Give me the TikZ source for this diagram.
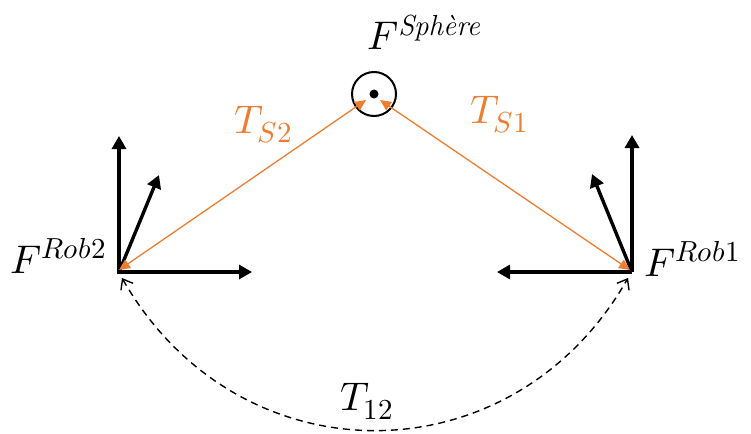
\documentclass[tikz,border=0pt]{standalone}
\usepackage{fontspec}
\usepackage{unicode-math}
\setmathfont{Latin Modern Math}
\DeclareMathSizes{40}{40}{29}{22}
\usetikzlibrary{arrows.meta}
\definecolor{orng}{RGB}{237,125,49}
\begin{document}
\begin{tikzpicture}[x=1pt,y=-1pt,
  axis/.style={line width=3.4pt,-{Triangle[length=13pt,width=14pt]}},
  link/.style={orng,line width=1.3pt,{Triangle[length=11pt,width=10pt]}-{Triangle[length=11pt,width=10pt]}},
  lbl/.style={font=\fontsize{40}{46}\selectfont,inner sep=0pt,anchor=base west},
  olbl/.style={lbl,text=orng}]
\useasboundingbox (0,0) rectangle (751,433);
% frames
\coordinate (r2) at (119,272);
\coordinate (r1) at (632,272);
\coordinate (r2up) at (119,136);
\coordinate (r2tilt) at (159,175);
\coordinate (r2right) at (252,272);
\coordinate (r1up) at (632,135);
\coordinate (r1tilt) at (592,174);
\coordinate (r1left) at (497,272);
\node[circle,draw,line width=2pt,minimum size=44pt,inner sep=0pt] (sph) at (374,94) {};
\node[circle,fill,minimum size=9pt,inner sep=0pt] (dot) at (374,94) {};
\coordinate (s2end) at (366,100);
\coordinate (s1end) at (380,100);
\coordinate (r2end) at (119,270);
\coordinate (r1end) at (630,270);
\draw[axis] (r2) -- (r2up);
\draw[axis] (r2) -- (r2tilt);
\draw[axis] (r2) -- (r2right);
\draw[axis] (r1) -- (r1up);
\draw[axis] (r1) -- (r1tilt);
\draw[axis] (r1) -- (r1left);
\draw[line width=3.4pt] (r2up) ++(0,10) -- (r2) -- ++(10,0);
\draw[link] (r2end) -- (s2end);
\draw[link] (s1end) -- (r1end);
% dashed arc
\coordinate (a2) at (122,278);
\coordinate (a1) at (628,278);
\draw[dash pattern=on 7pt off 5pt,line width=1.4pt,{Straight Barb[length=9pt,width=14pt]}-{Straight Barb[length=9pt,width=14pt]}]
  (a2) .. controls (238,481) and (512,481) .. (a1);
% labels
\node[lbl] (fs) at (367,50) {$F^{\textit{Sph\`ere}}$};
\node[lbl] (fr2) at (10,273) {$F^{Rob2}$};
\node[lbl] (fr1) at (644,276) {$F^{Rob1}$};
\node[olbl] (ts2) at (234,133) {$T_{S2}$};
\node[olbl] (ts1) at (470,123) {$T_{S1}$};
\node[lbl] (t12) at (340,410) {$T_{12}$};
\end{tikzpicture}
\end{document}
